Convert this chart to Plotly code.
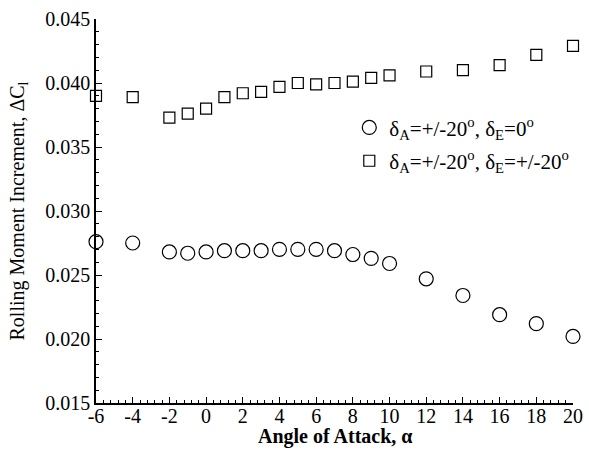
import plotly.graph_objects as go

# Angle of attack (deg)
alpha = [-6, -4, -2, -1, 0, 1, 2, 3, 4, 5, 6, 7, 8, 9, 10, 12, 14, 16, 18, 20]

# Rolling moment increment, aileron only
dcl_aileron = [0.0276, 0.0275, 0.0268, 0.0267, 0.0268, 0.0269, 0.0269, 0.0269,
               0.0270, 0.0270, 0.0270, 0.0269, 0.0266, 0.0263, 0.0259, 0.0247,
               0.0234, 0.0219, 0.0212, 0.0202]

# Rolling moment increment, aileron + differential elevator
dcl_aileron_elev = [0.0390, 0.0389, 0.0373, 0.0376, 0.0380, 0.0389, 0.0392, 0.0393,
                    0.0397, 0.0400, 0.0399, 0.0400, 0.0401, 0.0404, 0.0406, 0.0409,
                    0.0410, 0.0414, 0.0422, 0.0429]

x_ticks = [-6, -4, -2, 0, 2, 4, 6, 8, 10, 12, 14, 16, 18, 20]
y_ticks = [0.015, 0.020, 0.025, 0.030, 0.035, 0.040, 0.045]

x_title = "Angle of Attack, α"
y_title = "Rolling Moment Increment, ΔC<sub>l</sub>"
label_a = "δ<sub>A</sub>=+/-20<sup>o</sup>, δ<sub>E</sub>=0<sup>o</sup>"
label_b = "δ<sub>A</sub>=+/-20<sup>o</sup>, δ<sub>E</sub>=+/-20<sup>o</sup>"

FONT = "Liberation Serif, Times New Roman, serif"

fig = go.Figure()
fig.add_trace(go.Scatter(
    x=alpha, y=dcl_aileron, mode="markers", name=label_a, legendgroup="a",
    marker=dict(symbol="circle-open", size=14, color="black",
                line=dict(width=1.2, color="black")),
    cliponaxis=False,
))
fig.add_trace(go.Scatter(
    x=alpha, y=dcl_aileron_elev, mode="markers", name=label_b, legendgroup="b",
    marker=dict(symbol="square-open", size=11, color="black",
                line=dict(width=1.2, color="black")),
    cliponaxis=False,
))

fig.update_layout(
    width=589, height=455,
    margin=dict(l=96, r=16, t=19, b=52),
    paper_bgcolor="white", plot_bgcolor="white",
    font=dict(family=FONT, size=19, color="black"),
    showlegend=True,
    legend=dict(x=0.531, y=0.77, xanchor="left", yanchor="top",
                bgcolor="rgba(0,0,0,0)", borderwidth=0,
                font=dict(family=FONT, size=21, color="black"),
                itemwidth=30, tracegroupgap=3),
)

fig.update_xaxes(
    range=[-6, 20], tickvals=x_ticks, ticktext=[str(v) for v in x_ticks],
    automargin=False,
    showgrid=False, zeroline=False,
    showline=True, linecolor="black", linewidth=1.5,
    ticks="inside", ticklen=6, tickwidth=1, tickcolor="black",
    minor=dict(dtick=0.4, tick0=-6, ticks="inside", ticklen=3, tickwidth=1,
               tickcolor="black", showgrid=False),
    tickfont=dict(family=FONT, size=20, color="black"),
    ticklabelstandoff=-6,
)

fig.update_yaxes(
    range=[0.015, 0.045], tickvals=y_ticks,
    ticktext=[f"{v:.3f}" for v in y_ticks],
    automargin=False,
    showgrid=False, zeroline=False,
    showline=True, linecolor="black", linewidth=1.5,
    ticks="inside", ticklen=6, tickwidth=1, tickcolor="black",
    minor=dict(dtick=0.001, tick0=0.015, ticks="inside", ticklen=3, tickwidth=1,
               tickcolor="black", showgrid=False),
    tickfont=dict(family=FONT, size=20, color="black"),
    title=dict(text=y_title, font=dict(family=FONT, size=20, color="black")),
)

# x-axis title placed under the tick labels
fig.add_annotation(
    text=x_title, xref="paper", yref="paper", x=0.5, y=-0.088,
    xanchor="center", yanchor="middle", showarrow=False,
    font=dict(family=FONT, size=20, color="black", weight="bold"),
)

fig.write_html("out.html")
